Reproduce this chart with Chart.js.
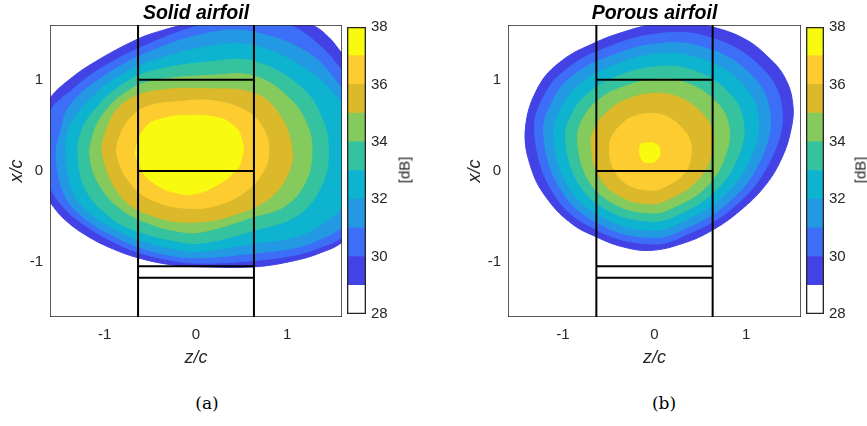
<!DOCTYPE html>
<html>
<head>
<meta charset="utf-8">
<script src="https://cdn.jsdelivr.net/npm/chart.js@4.4.1/dist/chart.umd.min.js"></script>
<style>
  body { margin: 0; width: 867px; height: 426px; overflow: hidden; background: #fff; position: relative; font-family: "Liberation Sans", Arial, sans-serif; }
  canvas { position: absolute; }
  .unit { position: absolute; font-size: 15px; color: #262626; transform: translate(-50%, -50%) rotate(-90deg); white-space: nowrap; }
  .cap { position: absolute; font-family: "DejaVu Serif", serif; font-size: 17px; color: #000; transform: translate(-50%, -50%); }
</style>
</head>
<body>
<canvas id="solid" width="392" height="380" style="left:0;top:0"></canvas>
<canvas id="solidBar" width="66" height="330" style="left:340px;top:0"></canvas>
<canvas id="porous" width="393" height="380" style="left:458px;top:0"></canvas>
<canvas id="porousBar" width="66" height="330" style="left:798px;top:0"></canvas>
<div class="unit" style="left:404px;top:170px">[dB]</div>
<div class="unit" style="left:860px;top:170px">[dB]</div>
<div class="cap" style="left:207px;top:403px">(a)</div>
<div class="cap" style="left:664px;top:403px">(b)</div>
<script>
// axis limits and ticks (z/c horizontal, x/c vertical)
const axisLim = 1.6;
const zTicks = [-1, 0, 1];
const xTicks = [-1, 0, 1];

// airfoil frame: span edges and chordwise stations
const spanZ = [-0.635, 0.635];
const stationX = [1.0, 0.0, -1.045, -1.17];

// colour levels, dB
const cbEdges = [28, 29, 30, 31, 32, 33, 34, 35, 36, 37, 38];
const levelColors = ['#4343e5', '#3c6ef7', '#2399e4', '#0db3cf', '#35c39f', '#84ca5c', '#dbb92b', '#fdcc30', '#f8fa10'];
const cbColors = ['#ffffff'].concat(levelColors);

// contour outlines [z/c, x/c], level 29 dB ... 37 dB
const solidL29 = [[-1.82,0.20],[-1.75,0.55],[-1.60,0.80],[-1.39,1.00],[-1.10,1.20],[-0.63,1.45],[-0.37,1.54],[-0.08,1.62],[0.30,1.72],[0.80,1.74],[1.27,1.60],[1.45,1.47],[1.60,1.29],[1.95,0.90],[2.08,0.25],[1.98,-0.40],[1.60,-0.78],[1.38,-0.89],[1.09,-0.98],[0.64,-1.05],[0.05,-1.05],[-0.26,-1.03],[-0.64,-0.95],[-0.92,-0.85],[-1.18,-0.72],[-1.43,-0.54],[-1.60,-0.34],[-1.75,-0.10]];
const solidL30 = [[-1.70,0.25],[-1.60,0.65],[-1.38,0.87],[-1.05,1.12],[-0.50,1.40],[0.05,1.60],[0.50,1.70],[1.02,1.60],[1.35,1.38],[1.60,1.10],[1.90,0.70],[2.00,0.20],[1.92,-0.35],[1.60,-0.72],[1.38,-0.83],[1.09,-0.92],[0.64,-0.98],[0.05,-1.01],[-0.26,-0.98],[-0.64,-0.89],[-0.92,-0.77],[-1.18,-0.62],[-1.43,-0.42],[-1.60,-0.17]];
const solidL31 = [[-1.53,0.14],[-1.48,0.45],[-1.38,0.72],[-1.05,1.01],[-0.50,1.31],[0.18,1.52],[0.64,1.52],[1.25,1.28],[1.60,0.90],[1.85,0.55],[1.92,0.15],[1.85,-0.30],[1.60,-0.61],[1.38,-0.74],[1.09,-0.84],[0.64,-0.90],[0.05,-0.95],[-0.26,-0.93],[-0.64,-0.83],[-0.92,-0.70],[-1.18,-0.55],[-1.42,-0.30]];
const solidL32 = [[-1.42,0.14],[-1.38,0.50],[-1.05,0.89],[-0.80,1.06],[-0.50,1.20],[0.18,1.37],[0.64,1.37],[1.20,1.12],[1.60,0.75],[1.80,0.45],[1.85,0.15],[1.78,-0.15],[1.60,-0.40],[1.38,-0.58],[1.09,-0.72],[0.64,-0.79],[0.05,-0.88],[-0.26,-0.85],[-0.64,-0.75],[-0.92,-0.62],[-1.18,-0.45],[-1.35,-0.22]];
const solidL33 = [[-1.29,0.16],[-1.25,0.45],[-1.05,0.74],[-0.80,0.95],[-0.50,1.09],[0.18,1.20],[0.64,1.20],[1.15,0.92],[1.38,0.58],[1.45,0.22],[1.38,-0.15],[1.12,-0.48],[0.64,-0.65],[0.05,-0.79],[-0.26,-0.76],[-0.64,-0.66],[-0.92,-0.52],[-1.20,-0.22]];
const solidL34 = [[-1.16,0.16],[-1.12,0.42],[-1.02,0.62],[-0.80,0.84],[-0.50,0.98],[0.18,1.05],[0.64,1.04],[1.02,0.80],[1.22,0.50],[1.27,0.20],[1.20,-0.12],[0.98,-0.38],[0.64,-0.50],[0.05,-0.67],[-0.20,-0.66],[-0.50,-0.58],[-0.82,-0.42],[-1.06,-0.15]];
const solidL35 = [[-1.02,0.16],[-0.98,0.45],[-0.82,0.72],[-0.50,0.87],[0.18,0.90],[0.64,0.85],[0.90,0.64],[1.05,0.25],[1.00,-0.05],[0.80,-0.30],[0.45,-0.47],[0.00,-0.56],[-0.45,-0.50],[-0.80,-0.30]];
const solidL36 = [[-0.86,0.16],[-0.82,0.42],[-0.68,0.62],[-0.50,0.72],[-0.20,0.76],[0.18,0.77],[0.55,0.66],[0.73,0.48],[0.80,0.23],[0.74,0.00],[0.55,-0.22],[0.25,-0.37],[-0.05,-0.41],[-0.40,-0.35],[-0.68,-0.18]];
const solidL37 = [[-0.66,0.18],[-0.62,0.38],[-0.50,0.53],[-0.25,0.60],[0.05,0.61],[0.30,0.57],[0.46,0.45],[0.52,0.25],[0.47,0.05],[0.32,-0.10],[0.10,-0.22],[-0.10,-0.26],[-0.35,-0.20],[-0.55,-0.06]];

const porousL29 = [[-1.41,0.45],[-1.27,0.92],[-1.01,1.21],[-0.64,1.41],[-0.35,1.52],[0.00,1.61],[0.35,1.63],[0.63,1.58],[0.98,1.45],[1.24,1.25],[1.42,1.03],[1.51,0.74],[1.49,0.45],[1.38,0.12],[1.20,-0.17],[0.94,-0.43],[0.63,-0.65],[0.32,-0.79],[-0.04,-0.87],[-0.35,-0.83],[-0.64,-0.72],[-0.90,-0.58],[-1.16,-0.32],[-1.34,0.01]];
const porousL30 = [[-1.31,0.43],[-1.18,0.87],[-0.94,1.13],[-0.60,1.32],[0.00,1.50],[0.58,1.47],[1.14,1.16],[1.39,0.70],[1.27,0.13],[0.87,-0.39],[0.30,-0.72],[-0.04,-0.80],[-0.60,-0.66],[-1.08,-0.28]];
const porousL31 = [[-1.21,0.41],[-1.09,0.81],[-0.87,1.06],[-0.55,1.23],[-0.01,1.39],[0.52,1.36],[1.03,1.08],[1.26,0.65],[1.16,0.13],[0.81,-0.34],[0.27,-0.66],[-0.04,-0.73],[-0.56,-0.60],[-1.00,-0.24]];
const porousL32 = [[-1.10,0.39],[-0.99,0.75],[-0.79,0.97],[-0.51,1.13],[-0.01,1.28],[0.47,1.24],[0.92,0.99],[1.13,0.61],[1.05,0.14],[0.73,-0.29],[0.25,-0.58],[-0.04,-0.65],[-0.52,-0.53],[-0.92,-0.20]];
const porousL33 = [[-0.97,0.37],[-0.87,0.68],[-0.70,0.87],[-0.45,1.02],[-0.01,1.14],[0.40,1.11],[0.79,0.88],[0.97,0.55],[0.91,0.15],[0.65,-0.23],[0.21,-0.50],[-0.04,-0.55],[-0.47,-0.45],[-0.82,-0.15]];
const porousL34 = [[-0.84,0.35],[-0.76,0.61],[-0.61,0.78],[-0.40,0.90],[-0.02,1.00],[0.33,0.97],[0.66,0.77],[0.81,0.50],[0.77,0.16],[0.56,-0.18],[0.18,-0.41],[-0.04,-0.46],[-0.42,-0.37],[-0.72,-0.10]];
const porousL35 = [[-0.69,0.32],[-0.62,0.53],[-0.50,0.66],[-0.34,0.77],[-0.02,0.85],[0.26,0.81],[0.51,0.64],[0.63,0.44],[0.62,0.17],[0.46,-0.11],[0.15,-0.31],[-0.04,-0.36],[-0.37,-0.28],[-0.61,-0.05]];
const porousL36 = [[-0.49,0.28],[-0.44,0.42],[-0.36,0.51],[-0.25,0.59],[-0.03,0.63],[0.15,0.59],[0.30,0.47],[0.38,0.35],[0.40,0.18],[0.33,-0.02],[0.10,-0.18],[-0.04,-0.21],[-0.29,-0.15],[-0.45,0.03]];
const porousL37 = [[-0.15,0.29],[-0.02,0.31],[0.05,0.27],[0.06,0.17],[0.00,0.10],[-0.12,0.10],[-0.16,0.18]];

const ink = '#262626';
const sans = 'Liberation Sans';

// wrap the outline so the spline is smooth where it closes
function closed(pts) {
  const n = pts.length;
  return [pts[n - 1]].concat(pts, [pts[0], pts[1]]);
}

function contourSets(contours) {
  // outer level drawn first, inner levels on top
  return contours.map((pts, i) => ({
    data: closed(pts).map(p => ({x: p[0], y: p[1]})),
    showLine: true,
    fill: 'shape',
    tension: i === 8 ? 0.2 : 0.4,
    backgroundColor: levelColors[i],
    borderColor: levelColors[i],
    borderWidth: 1,
    pointRadius: 0,
    order: 20 - i
  }));
}

function lineSet(pts, color, width) {
  return {
    data: pts.map(p => ({x: p[0], y: p[1]})),
    showLine: true, fill: false, tension: 0,
    borderColor: color, borderWidth: width, pointRadius: 0, order: 0
  };
}

function frameSets() {
  const sets = [];
  spanZ.forEach(z => sets.push(lineSet([[z, -axisLim], [z, axisLim]], '#000', 2)));
  stationX.forEach(x => sets.push(lineSet([[spanZ[0], x], [spanZ[1], x]], '#000', 2)));
  // axes box
  sets.push(lineSet([[-axisLim, -axisLim], [axisLim, -axisLim], [axisLim, axisLim], [-axisLim, axisLim], [-axisLim, -axisLim]], ink, 1.5));
  return sets;
}

function fixTicks(vals) {
  return s => { s.ticks = vals.map(v => ({value: v})); };
}

function panel(id, title, contours) {
  new Chart(document.getElementById(id), {
    type: 'scatter',
    data: {datasets: frameSets().concat(contourSets(contours))},
    options: {
      responsive: false, animation: false, events: [],
      layout: {padding: 0},
      elements: {line: {capBezierPoints: false}},
      plugins: {
        legend: {display: false}, tooltip: {enabled: false},
        title: {
          display: true, text: title, color: '#000',
          font: {family: sans, size: 19.5, weight: 'bold', style: 'italic', lineHeight: 1.1},
          padding: {top: 3, bottom: 0.55}
        }
      },
      scales: {
        x: {
          type: 'linear', position: 'bottom', min: -axisLim, max: axisLim,
          grid: {display: false, drawTicks: false},
          border: {display: false},
          ticks: {color: ink, font: {family: sans, size: 15}, padding: 9, autoSkip: false},
          title: {display: true, text: 'z/c', color: ink, font: {family: sans, size: 18, style: 'italic'}, padding: {top: 0, bottom: 11}},
          afterBuildTicks: fixTicks(zTicks),
          afterFit: s => { s.height = 63; }
        },
        y: {
          type: 'linear', position: 'left', min: -axisLim, max: axisLim,
          grid: {display: false, drawTicks: false},
          border: {display: false},
          ticks: {color: ink, font: {family: sans, size: 15}, padding: 7, autoSkip: false},
          title: {display: true, text: 'x/c', color: ink, font: {family: sans, size: 18, style: 'italic'}, padding: {top: 6, bottom: 0}},
          afterBuildTicks: fixTicks(xTicks),
          afterFit: s => { s.width = 50; }
        },
        y2: {
          type: 'linear', position: 'right', grid: {display: false, drawTicks: false}, ticks: {display: false},
          border: {display: false},
          afterFit: s => { s.width = 50; }
        }
      }
    }
  });
}

function colorbar(id, leftPad) {
  const sets = cbColors.map((c, i) => ({
    data: [[cbEdges[i], cbEdges[i + 1]]],
    backgroundColor: c, borderWidth: 0, order: 1
  }));
  // outline of the colour bar
  sets.push({
    data: [[cbEdges[0], cbEdges[cbEdges.length - 1]]],
    backgroundColor: 'rgba(0,0,0,0)', borderColor: ink, borderWidth: 1,
    borderSkipped: false, order: 0
  });
  new Chart(document.getElementById(id), {
    type: 'bar',
    data: {labels: [''], datasets: sets},
    options: {
      responsive: false, animation: false, events: [],
      layout: {padding: {top: 27, bottom: 16, left: 0, right: 0}},
      plugins: {legend: {display: false}, tooltip: {enabled: false}},
      datasets: {bar: {grouped: false, barPercentage: 1, categoryPercentage: 1}},
      scales: {
        x: {display: false},
        y: {
          type: 'linear', position: 'right', min: cbEdges[0], max: cbEdges[cbEdges.length - 1],
          grid: {display: false, drawTicks: false},
          border: {display: false},
          ticks: {stepSize: 2, color: ink, font: {family: sans, size: 15}, padding: 5},
          afterFit: s => { s.width = 40; }
        },
        y2: {
          type: 'linear', position: 'left', grid: {display: false, drawTicks: false}, ticks: {display: false},
          border: {display: false},
          afterFit: s => { s.width = leftPad; }
        }
      }
    }
  });
}

panel('solid', 'Solid airfoil', [solidL29, solidL30, solidL31, solidL32, solidL33, solidL34, solidL35, solidL36, solidL37]);
panel('porous', 'Porous airfoil', [porousL29, porousL30, porousL31, porousL32, porousL33, porousL34, porousL35, porousL36, porousL37]);
colorbar('solidBar', 7);
colorbar('porousBar', 8);
</script>
</body>
</html>
